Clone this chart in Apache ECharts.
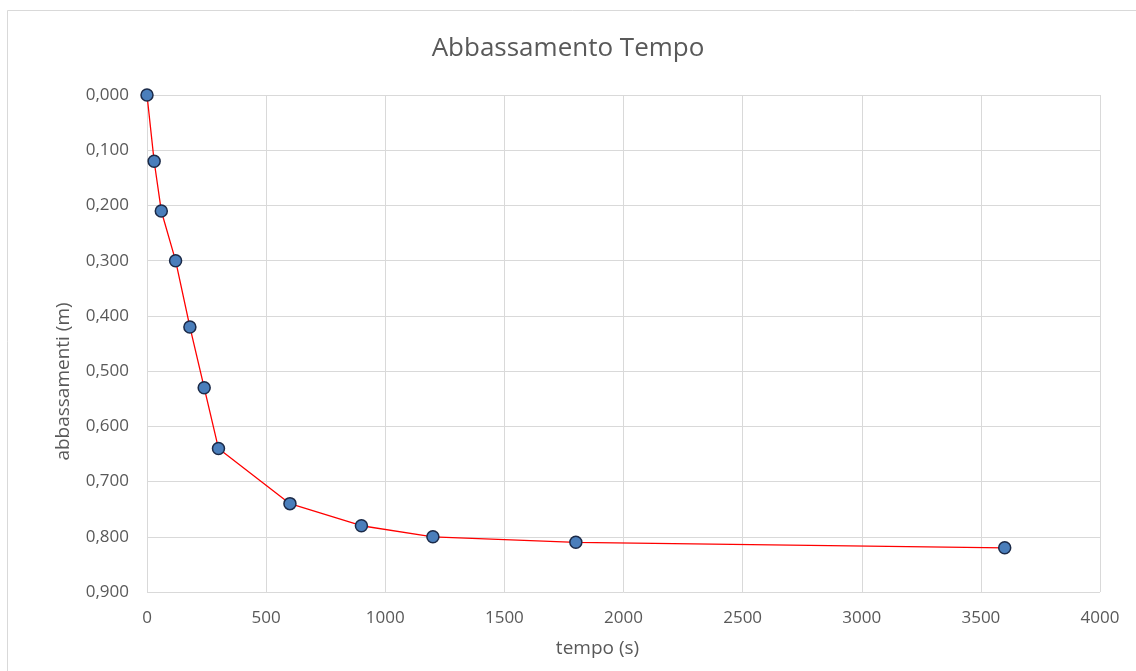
<!DOCTYPE html>
<html>
<head>
<meta charset="utf-8">
<script src="https://cdn.jsdelivr.net/npm/echarts@6/dist/echarts.min.js"></script>
<style>
  html, body { margin: 0; padding: 0; background: #fff; }
  #chart { width: 1136px; height: 671px; }
</style>
</head>
<body>
<div id="chart"></div>
<script>
// dati
var tempo = [0, 30, 60, 120, 180, 240, 300, 600, 900, 1200, 1800, 3600];
var abbassamenti = [0, 0.12, 0.21, 0.30, 0.42, 0.53, 0.64, 0.74, 0.78, 0.80, 0.81, 0.82];

var chart = echarts.init(document.getElementById('chart'));
var grey = '#595959';
var font = '"Open Sans", "Noto Sans", sans-serif';

var points = tempo.map(function (t, i) { return [t, abbassamenti[i]]; });

var option = {
  animation: false,
  backgroundColor: '#fff',
  textStyle: { fontFamily: font },
  title: {
    text: 'Abbassamento Tempo',
    left: 'center',
    top: 31,
    textStyle: { fontFamily: font, fontSize: 26, fontWeight: 'normal', color: grey }
  },
  graphic: [{
    type: 'rect',
    shape: { x: 7.5, y: 10.5, width: 1140, height: 680 },
    style: { fill: 'none', stroke: '#d9d9d9', lineWidth: 1 },
    silent: true
  }],
  grid: { left: 147, right: 36, top: 95, bottom: 79 },
  xAxis: {
    type: 'value',
    min: 0,
    max: 4000,
    interval: 500,
    name: 'tempo (s)',
    nameLocation: 'middle',
    nameGap: 47,
    nameTextStyle: { fontSize: 19, color: grey, padding: [0, 52, 0, 0] },
    axisLine: { show: true, lineStyle: { color: '#d9d9d9' } },
    axisTick: { show: false },
    axisLabel: {
      color: grey,
      fontSize: 17,
      margin: 18,
      formatter: function (v) { return String(v); }
    },
    splitLine: { show: true, lineStyle: { color: '#d9d9d9' } }
  },
  yAxis: {
    type: 'value',
    inverse: true,
    min: 0,
    max: 0.9,
    interval: 0.1,
    name: 'abbassamenti (m)',
    nameLocation: 'middle',
    nameGap: 74,
    nameTextStyle: { fontSize: 19, color: grey, padding: [0, 76, 0, 0] },
    axisLine: { show: false },
    axisTick: { show: false },
    axisLabel: {
      color: grey,
      fontSize: 17,
      margin: 18,
      formatter: function (v) { return v.toFixed(3).replace('.', ','); }
    },
    splitLine: { show: true, lineStyle: { color: '#d9d9d9' } }
  },
  series: [{
    type: 'line',
    data: points,
    symbol: 'circle',
    symbolSize: 12,
    lineStyle: { color: '#ff0000', width: 1.3 },
    itemStyle: { color: '#4a7ebb', borderColor: '#1b2a48', borderWidth: 1.5 }
  }]
};

chart.setOption(option);
</script>
</body>
</html>
